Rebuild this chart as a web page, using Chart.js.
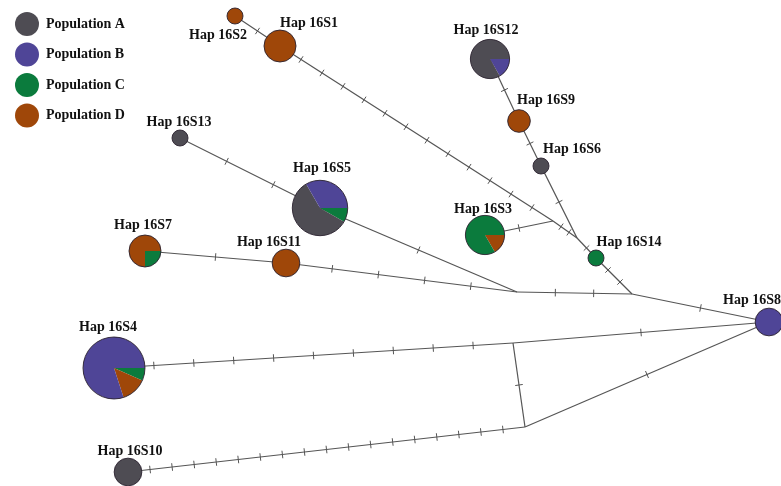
<!DOCTYPE html>
<html>
<head>
<meta charset="utf-8">
<script src="https://cdn.jsdelivr.net/npm/chart.js@4.4.1/dist/chart.umd.min.js"></script>
<style>
  html, body { margin: 0; padding: 0; background: #fff; }
  canvas { display: block; }
</style>
</head>
<body>
<canvas id="net" width="781" height="486"></canvas>
<script>
// populations (legend)
const populations = ['Population A', 'Population B', 'Population C', 'Population D'];
const popColors = ['#4e4c53', '#4f4597', '#0b7b3d', '#9f4709'];

// haplotypes, position in the network layout and counts per population
const haplotypes = ['Hap 16S1', 'Hap 16S2', 'Hap 16S3', 'Hap 16S4', 'Hap 16S5', 'Hap 16S6', 'Hap 16S7',
  'Hap 16S8', 'Hap 16S9', 'Hap 16S10', 'Hap 16S11', 'Hap 16S12', 'Hap 16S13', 'Hap 16S14'];
const hapX = [280, 235, 485, 114, 320, 541, 145, 769, 519, 128, 286, 490, 180, 596];
const hapY = [46, 16, 235, 368, 208, 166, 251, 322, 121, 472, 263, 59, 138, 258];
const countA = [0, 0, 0, 0, 7, 1, 0, 0, 0, 3, 0, 5, 1, 0];
const countB = [0, 0, 0, 12, 4, 0, 0, 3, 0, 0, 0, 1, 0, 0];
const countC = [0, 0, 5, 1, 1, 0, 1, 0, 0, 0, 0, 0, 0, 1];
const countD = [4, 1, 1, 2, 0, 0, 3, 0, 2, 0, 3, 0, 0, 0];
// order of the slices, clockwise from 3 o'clock (0=A 1=B 2=C 3=D)
const sliceOrder = [[3], [3], [3, 2], [2, 3, 1], [2, 0, 1], [0], [2, 3], [1], [3], [0], [3], [1, 0], [0], [2]];

// median vectors (unsampled nodes)
const medians = ['mv1', 'mv2', 'mv3', 'mv4', 'mv5', 'mv6'];
const medianX = [517, 632, 553, 577, 513, 525];
const medianY = [292, 294, 221, 238, 343, 427];

// links and number of mutation steps on each
const edgeFrom = ['Hap 16S2', 'Hap 16S1', 'Hap 16S3', 'mv3', 'Hap 16S12', 'Hap 16S9', 'Hap 16S6', 'mv4',
  'Hap 16S14', 'Hap 16S13', 'Hap 16S5', 'Hap 16S7', 'Hap 16S11', 'mv1', 'mv2', 'Hap 16S4', 'mv5', 'mv5',
  'Hap 16S10', 'mv6'];
const edgeTo = ['Hap 16S1', 'mv3', 'mv3', 'mv4', 'Hap 16S9', 'Hap 16S6', 'mv4', 'Hap 16S14',
  'mv2', 'Hap 16S5', 'mv1', 'Hap 16S11', 'mv1', 'mv2', 'Hap 16S8', 'mv5', 'Hap 16S8', 'mv6',
  'mv6', 'Hap 16S8'];
const edgeSteps = [1, 12, 1, 2, 1, 1, 1, 1, 2, 2, 1, 1, 4, 2, 1, 9, 1, 1, 17, 1];

// label placement relative to the node (layout only)
const labelDx = [29, -17, -2, -6, 2, 31, -2, -17, 27, 2, -17, -4, -1, 33];
const labelDy = [-23, 19, -26, -41, -40, -17, -26, -22, -21, -21, -21, -29, -16, -16];

const lineColor = '#555555';
const counts = [countA, countB, countC, countD];
const totals = haplotypes.map((h, i) => countA[i] + countB[i] + countC[i] + countD[i]);
const allNames = haplotypes.concat(medians);
const allX = hapX.concat(medianX);
const allY = hapY.concat(medianY);
const pt = name => {
  const i = allNames.indexOf(name);
  return { x: allX[i], y: allY[i] };
};

const edgeSets = edgeFrom.map((f, i) => ({
  label: f + ' - ' + edgeTo[i],
  data: [pt(f), pt(edgeTo[i])],
  showLine: true,
  pointRadius: 0,
  borderColor: lineColor,
  borderWidth: 1.2,
}));

const nodeSet = {
  label: 'haplotypes',
  data: haplotypes.map((h, i) => ({ x: hapX[i], y: hapY[i] })),
  pointRadius: ctx => 8 * Math.sqrt(totals[ctx.dataIndex]),
  pointBackgroundColor: 'rgba(0,0,0,0)',
  pointBorderWidth: 0,
};

const serif = '"Liberation Serif", "Times New Roman", serif';

const networkPlugin = {
  id: 'network',
  afterDatasetsDraw(chart) {
    const { ctx } = chart;
    const xs = chart.scales.x, ys = chart.scales.y;

    // mutation ticks along each link
    ctx.save();
    ctx.strokeStyle = lineColor;
    ctx.lineWidth = 1;
    edgeFrom.forEach((f, i) => {
      const a = pt(f), b = pt(edgeTo[i]);
      const ax = xs.getPixelForValue(a.x), ay = ys.getPixelForValue(a.y);
      const bx = xs.getPixelForValue(b.x), by = ys.getPixelForValue(b.y);
      const dx = bx - ax, dy = by - ay;
      const len = Math.hypot(dx, dy);
      const px = -dy / len * 3.8, py = dx / len * 3.8;
      const n = edgeSteps[i];
      for (let k = 1; k <= n; k++) {
        const t = k / (n + 1);
        const cx = ax + dx * t, cy = ay + dy * t;
        ctx.beginPath();
        ctx.moveTo(cx - px, cy - py);
        ctx.lineTo(cx + px, cy + py);
        ctx.stroke();
      }
    });
    ctx.restore();

    // pie for each haplotype
    const meta = chart.getDatasetMeta(0);
    ctx.save();
    meta.data.forEach((el, i) => {
      const r = el.options.radius;
      let start = 0;
      sliceOrder[i].forEach(p => {
        const end = start + counts[p][i] / totals[i] * Math.PI * 2;
        ctx.beginPath();
        ctx.moveTo(el.x, el.y);
        ctx.arc(el.x, el.y, r, start, end);
        ctx.closePath();
        ctx.fillStyle = popColors[p];
        ctx.fill();
        start = end;
      });
      ctx.beginPath();
      ctx.arc(el.x, el.y, r, 0, Math.PI * 2);
      ctx.strokeStyle = '#2b2230';
      ctx.lineWidth = 0.9;
      ctx.stroke();

      ctx.fillStyle = '#111';
      ctx.font = 'bold 14px ' + serif;
      ctx.textAlign = 'center';
      ctx.textBaseline = 'middle';
      ctx.fillText(haplotypes[i], el.x + labelDx[i], el.y + labelDy[i]);
    });

    // legend
    populations.forEach((p, i) => {
      const cy = 24 + i * 30.5;
      ctx.beginPath();
      ctx.arc(27, cy, 12, 0, Math.PI * 2);
      ctx.fillStyle = popColors[i];
      ctx.fill();
      ctx.fillStyle = '#111';
      ctx.font = 'bold 14px ' + serif;
      ctx.textAlign = 'left';
      ctx.textBaseline = 'middle';
      ctx.fillText(p, 46, cy);
    });
    ctx.restore();
  }
};

new Chart(document.getElementById('net'), {
  type: 'scatter',
  data: { datasets: [nodeSet].concat(edgeSets) },
  options: {
    responsive: false,
    animation: false,
    events: [],
    layout: { padding: 0, autoPadding: false },
    plugins: { legend: { display: false }, tooltip: { enabled: false } },
    scales: {
      x: { type: 'linear', min: 0, max: 781, display: false },
      y: { type: 'linear', min: 0, max: 486, reverse: true, display: false },
    },
  },
  plugins: [networkPlugin],
});
</script>
</body>
</html>
